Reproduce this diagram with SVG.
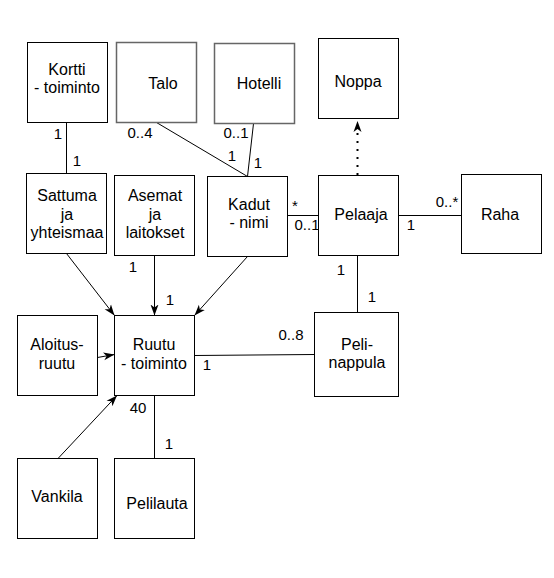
<svg xmlns="http://www.w3.org/2000/svg" width="554" height="578" viewBox="0 0 554 578">
<style>
.box{fill:#fff;stroke:#000;stroke-width:1}
.gray{stroke:#666;stroke-width:1.5}
.t{font-family:"Liberation Sans",Arial,Helvetica,sans-serif;font-size:16px;fill:#000;text-anchor:middle}
.lbl{font-family:"Liberation Sans",Arial,Helvetica,sans-serif;font-size:15px;fill:#000;text-anchor:middle}
.e{fill:none;stroke:#000;stroke-width:1}
.dot{fill:none;stroke:#000;stroke-width:2;stroke-dasharray:2 6}
</style>
<defs>
<marker id="arr" markerUnits="userSpaceOnUse" markerWidth="12" markerHeight="10" refX="11" refY="4" orient="auto" viewBox="0 0 12 8">
<path d="M0,0 L11,4 L0,8 L3,4 Z" fill="#000"/>
</marker>
</defs>
<rect width="554" height="578" fill="#fff"/>
<g id="connectors">
<path class="e" d="M66.5,122.5 V173.5"/>
<path class="e" d="M156.5,122.5 L247.5,176.5"/>
<path class="e" d="M253.5,123.5 L247.5,176.5"/>
<path class="e" d="M288,215.5 H318.5"/>
<path class="e" d="M398.5,215.5 H461.5"/>
<path class="dot" d="M357.5,175 V121" marker-end="url(#arr)"/>
<path class="e" d="M357.5,255.5 V312.5"/>
<path class="e" d="M66.5,253.5 L114.5,315.5" marker-end="url(#arr)"/>
<path class="e" d="M154.5,255.5 V315.5" marker-end="url(#arr)"/>
<path class="e" d="M247.5,256.5 L194.5,315.5" marker-end="url(#arr)"/>
<path class="e" d="M97.5,357.5 L114.5,354.5" marker-end="url(#arr)"/>
<path class="e" d="M58,458.5 L117,395.5" marker-end="url(#arr)"/>
<path class="e" d="M154.5,395.5 V458.5"/>
<path class="e" d="M194.5,355.5 L314.5,354.5"/>
<text class="lbl" x="58" y="139">1</text>
<text class="lbl" x="77" y="166">1</text>
<text class="lbl" x="140" y="138">0..4</text>
<text class="lbl" x="232" y="161">1</text>
<text class="lbl" x="236" y="138">0..1</text>
<text class="lbl" x="258" y="168">1</text>
<text class="lbl" x="295" y="211">*</text>
<text class="lbl" x="307" y="230">0..1</text>
<text class="lbl" x="447" y="207">0..*</text>
<text class="lbl" x="411" y="230">1</text>
<text class="lbl" x="341" y="275">1</text>
<text class="lbl" x="372" y="302">1</text>
<text class="lbl" x="133" y="272">1</text>
<text class="lbl" x="170" y="305">1</text>
<text class="lbl" x="291" y="340">0..8</text>
<text class="lbl" x="207" y="370">1</text>
<text class="lbl" x="138" y="413">40</text>
<text class="lbl" x="169" y="449">1</text>
</g>
<g id="kortti"><rect class="box" x="27.5" y="42.5" width="80" height="80"/><text class="t" x="67" y="75">Kortti</text><text class="t" x="67" y="93">- toiminto</text></g>
<g id="talo"><rect class="box gray" x="116.5" y="42.5" width="80" height="80"/><text class="t" x="163" y="89">Talo</text></g>
<g id="hotelli"><rect class="box gray" x="214.5" y="43.5" width="80" height="80"/><text class="t" x="259" y="89">Hotelli</text></g>
<g id="noppa"><rect class="box" x="318.5" y="38.5" width="80" height="80"/><text class="t" x="358" y="87">Noppa</text></g>
<g id="pelaaja"><rect class="box" x="318.5" y="175.5" width="80" height="80"/><text class="t" x="361" y="220">Pelaaja</text></g>
<g id="raha"><rect class="box" x="461.5" y="174.5" width="80" height="79"/><text class="t" x="500" y="220">Raha</text></g>
<g id="sattuma"><rect class="box" x="26.5" y="173.5" width="80" height="80"/><text class="t" x="67" y="201">Sattuma</text><text class="t" x="67" y="220">ja</text><text class="t" x="67" y="238">yhteismaa</text></g>
<g id="asemat"><rect class="box" x="114.5" y="175.5" width="80" height="80"/><text class="t" x="155" y="201">Asemat</text><text class="t" x="155" y="220">ja</text><text class="t" x="155" y="238">laitokset</text></g>
<g id="kadut"><rect class="box" x="207.5" y="176.5" width="80" height="80"/><text class="t" x="249" y="210">Kadut</text><text class="t" x="249" y="228">- nimi</text></g>
<g id="aloitusruutu"><rect class="box" x="17.5" y="315.5" width="80" height="80"/><text class="t" x="57" y="350">Aloitus-</text><text class="t" x="57" y="369">ruutu</text></g>
<g id="ruutu"><rect class="box" x="114.5" y="315.5" width="80" height="80"/><text class="t" x="154" y="350">Ruutu</text><text class="t" x="154" y="369">- toiminto</text></g>
<g id="pelinappula"><rect class="box" x="314.5" y="312.5" width="84" height="84"/><text class="t" x="357" y="350">Peli-</text><text class="t" x="357" y="368">nappula</text></g>
<g id="vankila"><rect class="box" x="17.5" y="458.5" width="80" height="80"/><text class="t" x="57" y="502">Vankila</text></g>
<g id="pelilauta"><rect class="box" x="114.5" y="458.5" width="80" height="80"/><text class="t" x="157" y="509">Pelilauta</text></g>
</svg>
